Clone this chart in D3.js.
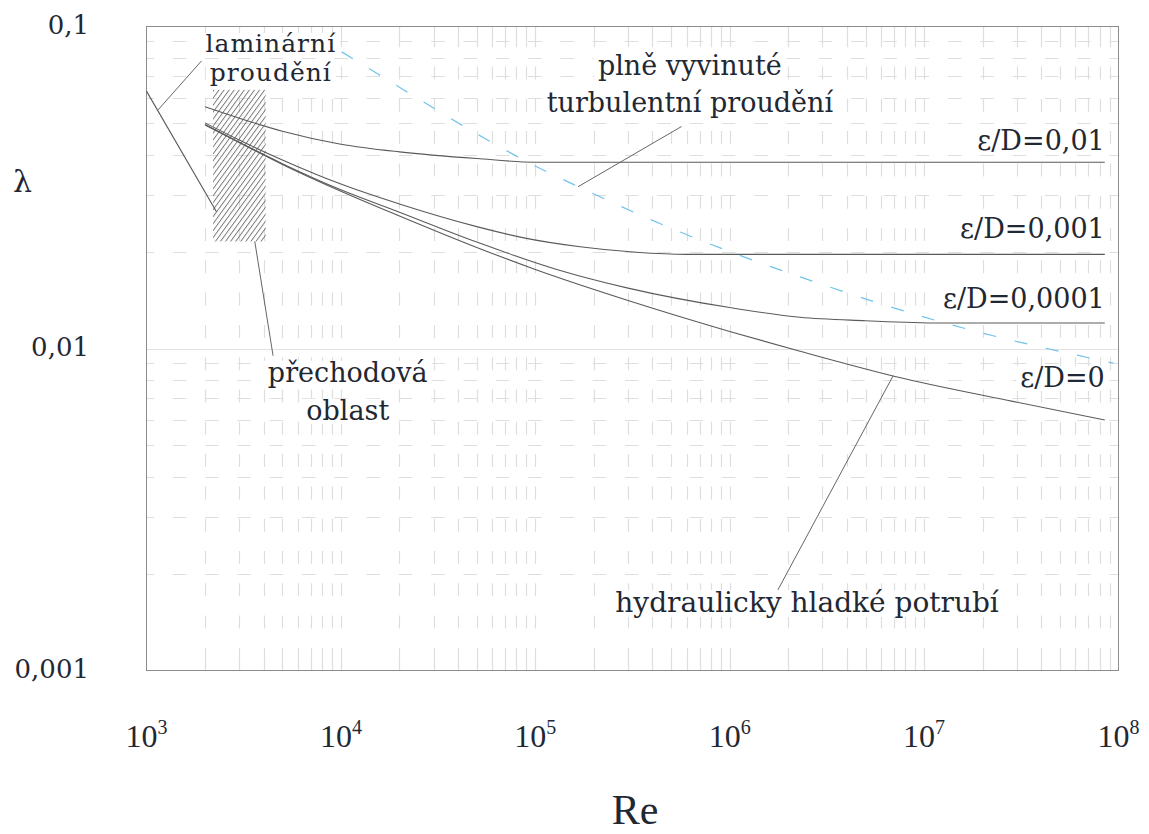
<!DOCTYPE html>
<html><head><meta charset="utf-8">
<script src="https://cdn.jsdelivr.net/npm/d3@7"></script>
<style>body{margin:0;background:#fff}svg{display:block}</style>
</head><body>
<svg id="chart" width="1149" height="834"></svg>
<script>
// ---------- data ----------
const xDomain = [1e3, 1e8];
const yDomain = [0.001, 0.1];
const xTickValues = [1e3, 1e4, 1e5, 1e6, 1e7, 1e8];
const xTickExponents = ["3", "4", "5", "6", "7", "8"];
const yTickValues = [0.1, 0.01, 0.001];
const yTickLabels = ["0,1", "0,01", "0,001"];

const laminar = [[1000, 0.063], [2290, 0.0266]];
const curveRough1e2 = [[2000,0.0563],[3000,0.0519],[5000,0.0473],[1e4,0.0431],[2e4,0.0408],[5e4,0.0389],[1e5,0.0379],[8.5e7,0.0379]];
const curveRough1e3 = [[2000,0.0502],[3000,0.0444],[5000,0.0385],[1e4,0.0324],[2e4,0.0281],[5e4,0.0239],[8.6e4,0.0221],[1.7e5,0.0207],[3.3e5,0.0199],[6e5,0.0196],[8.5e7,0.0196]];
const curveRough1e4 = [[2000,0.0496],[3000,0.0437],[5000,0.0375],[1e4,0.0311],[2e4,0.0265],[5e4,0.0214],[1.29e5,0.0176],[3e5,0.0154],[1e6,0.0134],[2.3e6,0.0125],[5e6,0.0122],[1.2e7,0.0120],[8.5e7,0.0120]];
const curveSmooth = [[2000,0.0494],[3000,0.0436],[5000,0.0373],[1e4,0.0308],[2e4,0.0258],[5e4,0.0206],[1e5,0.0176],[3e5,0.0141],[1e6,0.0113],[2.3e6,0.0098],[7e6,0.0082],[2.86e7,0.00685],[8.5e7,0.0060]];
const turbulentBoundary = [[1.01e4,0.0834],[1.52e4,0.0717],[5.65e4,0.0445],[9.0e4,0.0381],[1.56e5,0.0324],[5.1e5,0.0235],[2.69e6,0.01615],[1.25e7,0.01205],[9.4e7,0.00901]];
const transitionZone = {re: [2200, 4100], lam: [0.0215, 0.0636]};

const curveLabels = ["ε/D=0,01", "ε/D=0,001", "ε/D=0,0001", "ε/D=0"];
const curveLabelLam = [0.0414, 0.02203, 0.01335, 0.00759];
const curveLabelRe = 8.5e7;

const noteTexts = [["laminární","proudění"], ["přechodová","oblast"], ["plně vyvinuté","turbulentní proudění"], ["hydraulicky hladké potrubí"]];
const noteAnchors = [[4360,0.0834],[1.085e4,0.00788],[6.24e5,0.0708],[2.5e6,0.00152]];
const leaders = [[[1919,0.0782],[1147,0.0551]], [[3606,0.0215],[4479,0.00949]], [[5.65e5,0.0489],[1.66e5,0.0318]], [[6.93e6,0.00823],[1.77e6,0.00178]]];

// ---------- layout / style ----------
const noteLineHeights = [29.5, 38, 37, 0];
const noteSizes = [25, 27, 27, 28];
const noteSpacing = [1, 0, 0, 0];
const serif = "'DejaVu Serif', serif";
const serif2 = "'Liberation Serif', serif";
const textColor = "#1f2833";
const gridColor = "#dedede";
const lineColor = "#5a5a5a";

const svg = d3.select("#chart");
const x = d3.scaleLog().domain(xDomain).range([146.5, 1118.5]);
const y = d3.scaleLog().domain(yDomain).range([670.5, 26.5]);
const [X0, X1] = x.range(); const [Y1, Y0] = y.range();

// hatch pattern
const defs = svg.append("defs");
const pat = defs.append("pattern").attr("id","hatch").attr("patternUnits","userSpaceOnUse")
  .attr("width",4.1).attr("height",10).attr("patternTransform","rotate(36)");
pat.append("line").attr("x1",0.5).attr("y1",0).attr("x2",0.5).attr("y2",10)
  .attr("stroke","#505050").attr("stroke-width",0.8);

// grid
const xMinor = [];
for (let k = 3; k <= 7; k++) for (let m = 1; m <= 9; m++) { const v = m * Math.pow(10,k); if (v > xDomain[0] && v < xDomain[1]) xMinor.push(v); }
const yMinor = [];
for (let k = -3; k <= -2; k++) for (let m = 2; m <= 9; m++) yMinor.push(m * Math.pow(10,k));

const g = svg.append("g");
const vx = d => Math.round(x(d)) + 0.5;
g.selectAll(".vg").data(xMinor).join("line")
  .attr("x1", vx).attr("x2", vx).attr("y1", Y0).attr("y2", Y1)
  .attr("stroke", gridColor).attr("stroke-width", 1.2)
  .attr("stroke-dasharray", "13,19.3").attr("stroke-dashoffset", 24.6);
g.selectAll(".vt").data(xMinor).join("line")
  .attr("x1", vx).attr("x2", vx).attr("y1", Y1 - 10).attr("y2", Y1)
  .attr("stroke", gridColor).attr("stroke-width", 1.2);
g.selectAll(".vt2").data(xMinor).join("line")
  .attr("x1", vx).attr("x2", vx).attr("y1", Y0).attr("y2", Y0 + 10)
  .attr("stroke", gridColor).attr("stroke-width", 1.2);
g.selectAll(".hg").data(yMinor).join("line")
  .attr("y1", d => Math.round(y(d)) + 0.5).attr("y2", d => Math.round(y(d)) + 0.5)
  .attr("x1", X0).attr("x2", X1)
  .attr("stroke", gridColor).attr("stroke-width", 1.2)
  .attr("stroke-dasharray", "13.5,18.8").attr("stroke-dashoffset", 6);
g.append("line").attr("x1", X0).attr("x2", X1)
  .attr("y1", Math.round(y(0.01)) + 0.5).attr("y2", Math.round(y(0.01)) + 0.5)
  .attr("stroke", "#e2e2e2").attr("stroke-width", 1.2);

// frame
svg.append("rect").attr("x", X0).attr("y", Y0).attr("width", X1 - X0).attr("height", Y1 - Y0)
  .attr("fill", "none").attr("stroke", "#8c8c8c").attr("stroke-width", 1);

// transition zone
svg.append("rect")
  .attr("x", x(transitionZone.re[0])).attr("width", x(transitionZone.re[1]) - x(transitionZone.re[0]))
  .attr("y", y(transitionZone.lam[1])).attr("height", y(transitionZone.lam[0]) - y(transitionZone.lam[1]))
  .attr("fill", "url(#hatch)");

// curves
const line = d3.line().x(d => x(d[0])).y(d => y(d[1])).curve(d3.curveMonotoneX);
[laminar, curveRough1e2, curveRough1e3, curveRough1e4, curveSmooth].forEach(c => {
  svg.append("path").attr("d", line(c)).attr("fill", "none")
    .attr("stroke", lineColor).attr("stroke-width", 1.1);
});
svg.append("path").attr("d", line(turbulentBoundary)).attr("fill", "none")
  .attr("stroke", "#72c3ea").attr("stroke-width", 1.2).attr("stroke-dasharray", "13,19");

// labels with white boxes
const labelLayer = svg.append("g");
function addBox(t) {
  const bb = t.node().getBBox();
  labelLayer.insert("rect", () => t.node())
    .attr("x", bb.x - 4).attr("y", bb.y + 4).attr("width", bb.width + 8).attr("height", bb.height - 6)
    .attr("fill", "#fff");
}
noteTexts.forEach((lines, i) => {
  lines.forEach((s, j) => {
    const t = labelLayer.append("text").attr("font-family", serif).attr("font-size", noteSizes[i])
      .attr("letter-spacing", noteSpacing[i])
      .attr("fill", textColor).attr("text-anchor", "middle")
      .attr("x", x(noteAnchors[i][0])).attr("y", y(noteAnchors[i][1]) + j * noteLineHeights[i]).text(s);
    addBox(t);
  });
});
curveLabels.forEach((s, i) => {
  const t = labelLayer.append("text").attr("font-family", serif).attr("font-size", 27)
    .attr("fill", textColor).attr("text-anchor", "end")
    .attr("x", x(curveLabelRe)).attr("y", y(curveLabelLam[i])).text(s);
  addBox(t);
});

// leader lines
leaders.forEach(l => {
  svg.append("line").attr("x1", x(l[0][0])).attr("y1", y(l[0][1]))
    .attr("x2", x(l[1][0])).attr("y2", y(l[1][1]))
    .attr("stroke", "#666").attr("stroke-width", 1);
});

// axis tick labels
yTickValues.forEach((v, i) => {
  svg.append("text").attr("x", 89).attr("y", y(v) + 7).attr("text-anchor", "end")
    .attr("font-family", serif).attr("font-size", 26).attr("fill", textColor).text(yTickLabels[i]);
});
xTickValues.forEach((v, i) => {
  const t = svg.append("text").attr("x", x(v)).attr("y", 747).attr("text-anchor", "middle")
    .attr("font-family", serif2).attr("font-size", 32).attr("fill", textColor);
  t.append("tspan").text("10");
  t.append("tspan").attr("dy", -13).attr("font-size", 20).text(xTickExponents[i]);
});

// axis titles
svg.append("text").attr("x", 22.5).attr("y", 192).attr("text-anchor", "middle")
  .attr("font-family", serif).attr("font-size", 30).attr("fill", textColor).text("λ");
svg.append("text").attr("x", 635).attr("y", 824).attr("text-anchor", "middle")
  .attr("font-family", serif2).attr("font-size", 42).attr("fill", textColor).text("Re");
</script>
</body></html>
